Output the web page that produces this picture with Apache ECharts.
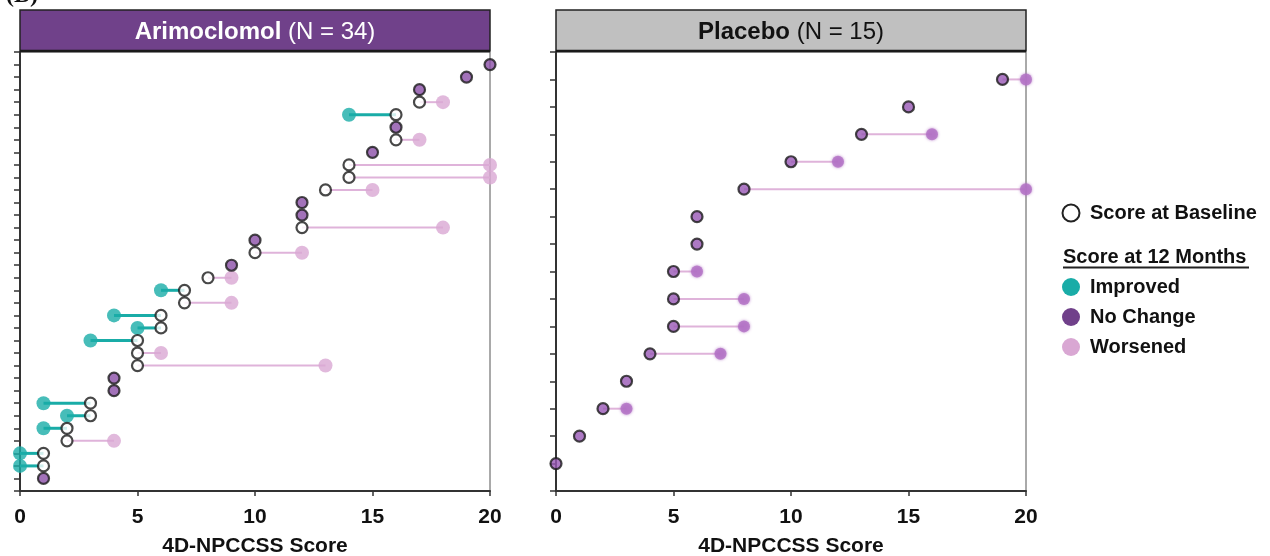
<!DOCTYPE html>
<html>
<head>
<meta charset="utf-8">
<script src="https://cdn.jsdelivr.net/npm/echarts@6/dist/echarts.min.js"></script>
<style>
  html, body { margin: 0; padding: 0; background: #fff; }
  #chart { width: 1270px; height: 556px; }
</style>
</head>
<body>
<div id="chart"></div>
<script>
// 4D-NPCCSS scores per patient, rows ordered bottom (1) to top
const armBaseline = [1, 1, 1, 2, 2, 3, 3, 4, 4, 5, 5, 5, 6, 6, 7, 7, 8, 9, 10, 10, 12, 12, 12, 13, 14, 14, 15, 16, 16, 16, 17, 17, 19, 20];
const armMonth12  = [1, 0, 0, 4, 1, 2, 1, 4, 4, 13, 6, 3, 5, 4, 9, 6, 9, 9, 12, 10, 18, 12, 12, 15, 20, 20, 15, 17, 16, 14, 18, 17, 19, 20];
const pboBaseline = [0, 1, 2, 3, 4, 5, 5, 5, 6, 6, 8, 10, 13, 15, 19];
const pboMonth12  = [0, 1, 3, 3, 7, 8, 8, 6, 6, 6, 20, 12, 16, 15, 20];
const xTicks = [0, 5, 10, 15, 20];

const TEAL = '#19aca7';
const PURPLE = '#8b4fa7';
const PINK = '#d9a7d3';
const PINK_LINE = '#dfb3da';
const PBO_BASE = '#9858b5';
const PBO_W = '#b170c4';
const FONT = '"Liberation Sans", Arial, sans-serif';

function rows(base, m12) {
  return base.map((b, i) => ({ b, m: m12[i], r: i + 1 }));
}
const arm = rows(armBaseline, armMonth12);
const pbo = rows(pboBaseline, pboMonth12);

// connector from baseline to 12-month score on each patient row
function segSeries(list, gi) {
  return {
    type: 'custom',
    xAxisIndex: gi, yAxisIndex: gi,
    z: 1,
    clip: false,
    data: list.filter(d => d.b !== d.m).map(d => [d.b, d.m, d.r]),
    encode: { x: [0, 1], y: 2 },
    renderItem(params, api) {
      const b = api.value(0), m = api.value(1), r = api.value(2);
      const p0 = api.coord([b, r]);
      const p1 = api.coord([m, r]);
      const improved = m < b;
      return {
        type: 'line',
        shape: { x1: p0[0], y1: p0[1], x2: p1[0], y2: p1[1] },
        style: { stroke: improved ? TEAL : PINK_LINE, lineWidth: improved ? 3 : 2 }
      };
    }
  };
}

function dots(data, gi, size, style, z) {
  return {
    type: 'scatter',
    xAxisIndex: gi, yAxisIndex: gi,
    clip: false,
    z: z,
    symbol: 'circle',
    symbolSize: size,
    data: data,
    itemStyle: style,
    emphasis: { disabled: true }
  };
}

function xAxis(gi) {
  return {
    type: 'value', gridIndex: gi, min: 0, max: 20, interval: 5,
    axisLine: { show: true, lineStyle: { color: '#333', width: 2 } },
    axisTick: { show: true, length: 5, lineStyle: { color: '#333', width: 1.5 } },
    axisLabel: {
      margin: 16, color: '#111', fontFamily: FONT, fontWeight: 'bold', fontSize: 21,
      formatter: v => xTicks.includes(v) ? String(v) : ''
    },
    splitLine: { show: false },
    name: '4D-NPCCSS Score', nameLocation: 'middle', nameGap: 45,
    nameTextStyle: { color: '#111', fontFamily: FONT, fontWeight: 'bold', fontSize: 21 }
  };
}

function yAxis(gi, max) {
  return {
    type: 'value', gridIndex: gi, min: 0, max: max, interval: 1,
    axisLine: { show: true, lineStyle: { color: '#333', width: 2 } },
    axisTick: { show: true, length: 6, lineStyle: { color: '#333', width: 1.5 } },
    axisLabel: { show: false },
    splitLine: { show: false }
  };
}

const series = [
  segSeries(arm, 0),
  dots(arm.filter(d => d.m < d.b).map(d => [d.m, d.r]), 0, 14, { color: TEAL }, 2),
  dots(arm.filter(d => d.m > d.b).map(d => [d.m, d.r]), 0, 14, { color: PINK }, 2),
  dots(arm.filter(d => d.m !== d.b).map(d => [d.b, d.r]), 0, 11,
       { color: '#fff', borderColor: '#1a1a1a', borderWidth: 2.2 }, 3),
  dots(arm.filter(d => d.m === d.b).map(d => [d.m, d.r]), 0, 11,
       { color: PURPLE, borderColor: '#1a1a1a', borderWidth: 2.2 }, 3),

  segSeries(pbo, 1),
  dots(pbo.filter(d => d.m > d.b).map(d => [d.m, d.r]), 1, 12,
       { color: PBO_W, shadowBlur: 3, shadowColor: PBO_W }, 2),
  dots(pbo.map(d => [d.b, d.r]), 1, 11,
       { color: PBO_BASE, borderColor: '#1a1a1a', borderWidth: 2.2 }, 3)
];

function header(x, w, fill, boldText, restText, color) {
  return [
    { type: 'rect', shape: { x: x, y: 10, width: w, height: 41 },
      style: { fill: fill, stroke: '#222', lineWidth: 1.5 }, z: 10 },
    { type: 'line', shape: { x1: x, y1: 51, x2: x + w, y2: 51 },
      style: { stroke: '#1a1a1a', lineWidth: 2.5 }, z: 11 },
    { type: 'text', x: x + w / 2, y: 32, z: 12,
      style: {
        text: '{b|' + boldText + '}{r|' + restText + '}',
        align: 'center', verticalAlign: 'middle',
        rich: {
          b: { fontFamily: FONT, fontWeight: 'bold', fontSize: 24, fill: color, color: color },
          r: { fontFamily: FONT, fontWeight: 'normal', fontSize: 24, fill: color, color: color }
        }
      } }
  ];
}

const legendFont = { fontFamily: FONT, fontWeight: 'bold', fontSize: 20, fill: '#111' };
const legendItems = [
  { label: 'Improved', color: TEAL, y: 287 },
  { label: 'No Change', color: '#70408a', y: 317 },
  { label: 'Worsened', color: PINK, y: 347 }
];

const graphic = [
  { type: 'text', x: 6, y: -16, style: { text: '(B)', fontFamily: '"Liberation Serif", serif', fontWeight: 'bold', fontSize: 24, fill: '#111' } },
  ...header(20, 470, '#70418a', 'Arimoclomol', ' (N = 34)', '#fff'),
  ...header(556, 470, '#c0c0c0', 'Placebo', ' (N = 15)', '#111'),
  { type: 'circle', shape: { cx: 1071, cy: 213, r: 8.5 }, style: { fill: '#fff', stroke: '#222', lineWidth: 2 } },
  { type: 'text', x: 1090, y: 213, style: Object.assign({ text: 'Score at Baseline', verticalAlign: 'middle' }, legendFont) },
  { type: 'text', x: 1063, y: 257, style: Object.assign({ text: 'Score at 12 Months', verticalAlign: 'middle' }, legendFont) },
  { type: 'line', shape: { x1: 1063, y1: 267.5, x2: 1249, y2: 267.5 }, style: { stroke: '#222', lineWidth: 2 } },
  ...legendItems.flatMap(it => [
    { type: 'circle', shape: { cx: 1071, cy: it.y, r: 9 }, style: { fill: it.color } },
    { type: 'text', x: 1090, y: it.y, style: Object.assign({ text: it.label, verticalAlign: 'middle' }, legendFont) }
  ])
];

const chart = echarts.init(document.getElementById('chart'), null, { renderer: 'canvas' });
chart.setOption({
  animation: false,
  backgroundColor: '#fff',
  grid: [
    { left: 20, top: 52, width: 470, height: 439, outerBoundsMode: 'none', containLabel: false,
      show: true, borderColor: '#555', borderWidth: 1, backgroundColor: 'transparent' },
    { left: 556, top: 52, width: 470, height: 439, outerBoundsMode: 'none', containLabel: false,
      show: true, borderColor: '#555', borderWidth: 1, backgroundColor: 'transparent' }
  ],
  xAxis: [xAxis(0), xAxis(1)],
  yAxis: [yAxis(0, 35), yAxis(1, 16)],
  series: series,
  graphic: graphic
});
</script>
</body>
</html>
